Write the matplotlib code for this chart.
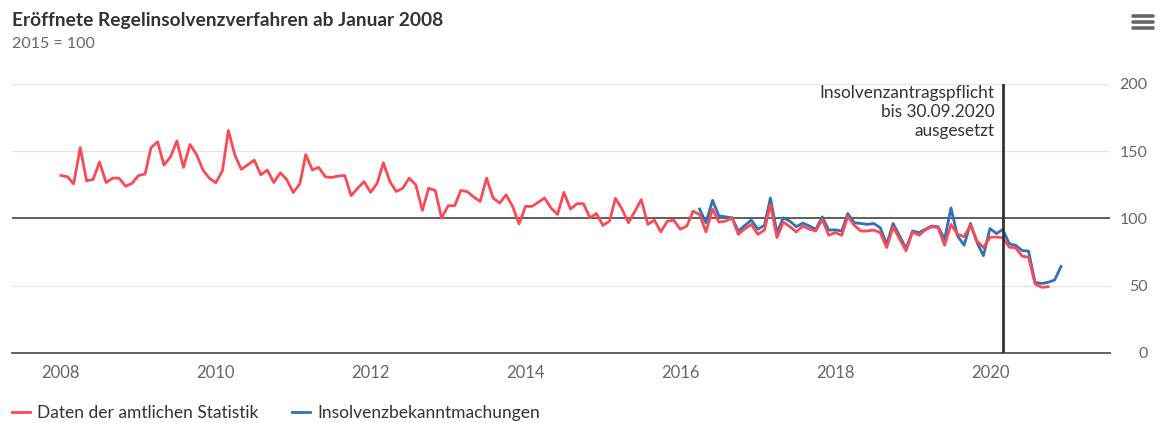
import pandas as pd
import matplotlib.pyplot as plt
import matplotlib.dates as mdates

plt.rcParams['font.family'] = ['Lato', 'DejaVu Sans']

# amtliche Statistik, monatlich ab Jan 2008 (2015 = 100)
amtlich = [
    132, 131, 125.7, 152.7, 128, 129, 142, 126.7, 130, 130, 124, 126,
    132, 133, 152.7, 157, 139.7, 145.8, 157.6, 138, 155, 147.8, 136, 130,
    126.5, 135.5, 165.4, 147, 136.5, 140, 143.4, 132.4, 136, 126.7, 134, 129,
    119.3, 125.7, 147.5, 136, 138, 131, 130.5, 131.5, 132, 117, 122.5, 127.4,
    119.4, 126.2, 141.4, 127.4, 120, 122.5, 130, 125, 106, 122.5, 120.8, 100.2,
    109.5, 109.5, 120.8, 120, 116, 112.7, 130, 115.2, 111.5, 117.6, 109, 96,
    109, 109, 112, 115.2, 107.8, 103, 119.4, 107, 111, 111, 100.5, 103.7,
    94.8, 98, 115, 107, 96.8, 105.4, 114, 95.6, 98.8, 90, 98, 98.8,
    92, 94.4, 105.4, 103, 90, 107, 97.3, 98, 100.5, 88.2, 92.4, 95.6,
    88.2, 91.4, 110.3, 85.8, 97.3, 93.9, 90, 94.4, 92, 90.7, 99.3, 87.5,
    89.5, 87.5, 101.7, 94.9, 90.7, 90.7, 91.4, 89.5, 78.4, 93.9, 84.6, 76,
    90, 87.5, 91.4, 93.9, 93.2, 80.1, 95.6, 88.2, 86.5, 94.9, 83.3, 78.4,
    86, 86.2, 85.7, 78.7, 78.2, 72, 71.2, 51.3, 48.8, 49.3,
]

# Insolvenzbekanntmachungen, monatlich ab Apr 2016
bekannt = [
    107, 96.8, 113.5, 102, 101.2, 100.5, 90.7, 94.9, 98.8,
    92, 94.9, 115.2, 89.5, 100.5, 98, 93.9, 96.6, 94.4, 92, 101.2, 91.4,
    91.5, 90.7, 103.7, 96.8, 96.3, 95.6, 96.3, 93.2, 80.9, 96.3, 87, 77.7,
    90.7, 89.5, 91.9, 94.4, 93.9, 84.6, 107.8, 87, 80.1, 96.3, 82.1, 72.3,
    92.5, 88.8, 91.8, 81.3, 80, 76.2, 75.7, 52.5, 51.7, 52.5, 54.3, 64.3,
]

dates_amtlich = pd.date_range('2008-01-01', periods=len(amtlich), freq='MS')
dates_bekannt = pd.date_range('2016-04-01', periods=len(bekannt), freq='MS')

y_ticks = [0, 50, 100, 150, 200]

fig = plt.figure(figsize=(11.62, 4.23), dpi=100)
ax = fig.add_axes([0.0103, 0.1655, 0.9449, 0.636])

# Gitterlinien
for t in [50, 150, 200]:
    ax.axhline(t, color='#e6e6e6', lw=0.8, zorder=0)
ax.axhline(100, color='#333333', lw=1.1, zorder=1)

ax.plot(dates_amtlich, amtlich, color='#f94a55', lw=2, zorder=3,
        label='Daten der amtlichen Statistik', solid_joinstyle='round')
ax.plot(dates_bekannt, bekannt, color='#2f72b5', lw=2, zorder=2,
        label='Insolvenzbekanntmachungen', solid_joinstyle='round')

# Aussetzung der Insolvenzantragspflicht
line_date = pd.Timestamp('2020-03-01')
ax.axvline(line_date, color='#333333', lw=2, zorder=4)
ax.annotate('Insolvenzantragspflicht\nbis 30.09.2020\nausgesetzt',
            xy=(line_date, 200), xytext=(-6, -1), textcoords='offset points',
            ha='right', va='top', fontsize=12.4, color='#333333',
            linespacing=1.2)

ax.set_ylim(0, 200)
ax.set_xlim(pd.Timestamp('2007-05-15'), pd.Timestamp('2021-07-20'))
ax.set_yticks(y_ticks)
ax.yaxis.tick_right()
ax.tick_params(axis='y', length=0, pad=27, labelsize=11.5, labelcolor='#666666')
for lbl in ax.get_yticklabels():
    lbl.set_horizontalalignment('right')

ax.xaxis.set_major_locator(mdates.YearLocator(2))
ax.xaxis.set_major_formatter(mdates.DateFormatter('%Y'))
ax.tick_params(axis='x', length=0, pad=9, labelsize=12, labelcolor='#666666')

for side in ['top', 'right', 'left']:
    ax.spines[side].set_visible(False)
ax.spines['bottom'].set_color('#555555')
ax.spines['bottom'].set_linewidth(1.3)

fig.text(0.0103, 0.952, 'Eröffnete Regelinsolvenzverfahren ab Januar 2008',
         fontsize=13.8, fontweight='bold', color='#333333', va='center')
fig.text(0.0103, 0.895, '2015 = 100', fontsize=11.5, color='#666666', va='center')

fig.legend(loc='center left', bbox_to_anchor=(0.0103, 0.024), ncol=2, frameon=False,
           fontsize=12.5, handlelength=1.04, handletextpad=0.42, columnspacing=1.9,
           borderpad=0, borderaxespad=0, labelcolor='#333333')

# Menü-Symbol oben rechts
for yy in [0.962, 0.948, 0.934]:
    fig.add_artist(plt.Line2D([0.975, 0.992], [yy, yy], color='#666666', lw=2.6,
                              solid_capstyle='round'))

fig.savefig('out.png', dpi=100)
